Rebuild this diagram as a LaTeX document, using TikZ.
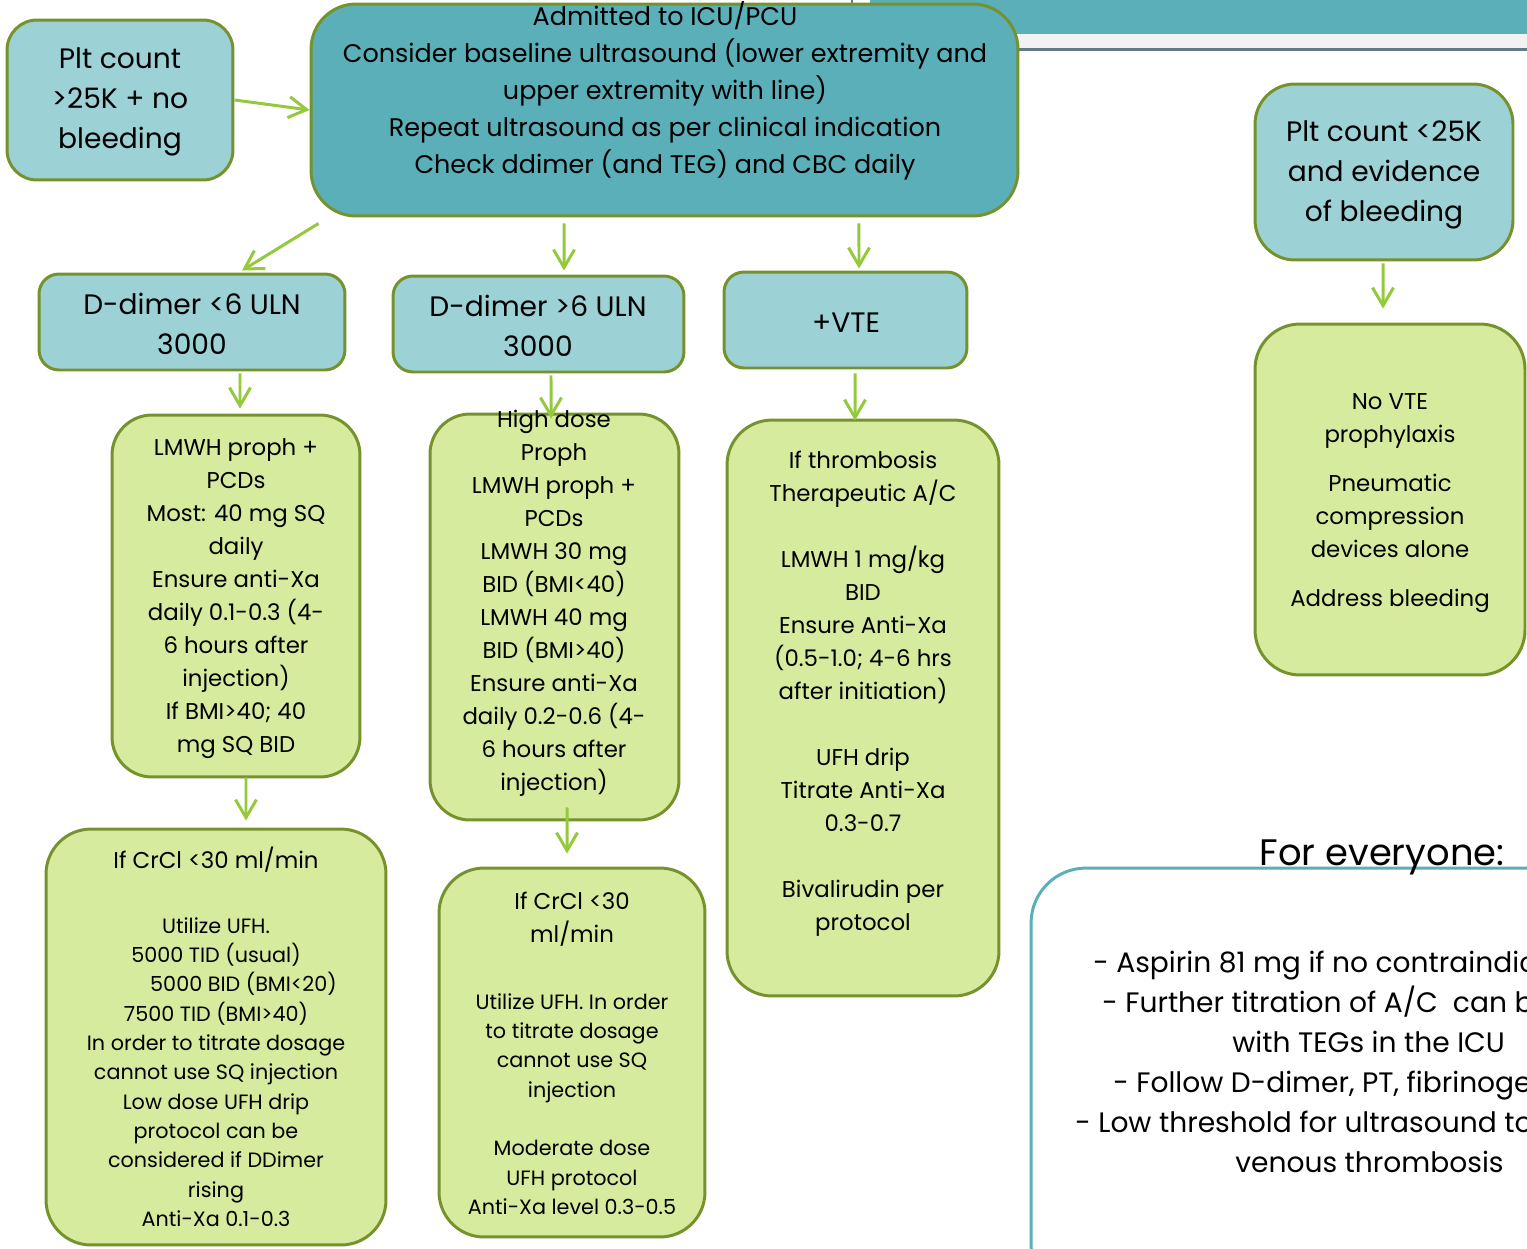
\documentclass[tikz,border=0pt]{standalone}
\usepackage{fontspec}
\setmainfont{Poppins}
\usetikzlibrary{arrows.meta}
\definecolor{lteal}{HTML}{9CD1D6}
\definecolor{dteal}{HTML}{5AAFB9}
\definecolor{lgreen}{HTML}{D7EB9F}
\definecolor{olive}{HTML}{76922C}
\definecolor{lime}{HTML}{94C93D}
\definecolor{slate}{HTML}{627A86}
\begin{document}
\begin{tikzpicture}[x=0.02cm,y=-0.02cm,
  box/.style={draw=olive,line width=1.7pt,inner sep=0pt},
  txt/.style={align=center,inner sep=0pt,text=black},
  bigtxt/.style={txt,font=\fontsize{16}{22.8}\selectfont},
  icutxt/.style={txt,font=\fontsize{14.5}{21}\selectfont},
  midtxt/.style={txt,font=\fontsize{13}{18.8}\selectfont},
  smalltxt/.style={txt,font=\fontsize{11.8}{16.7}\selectfont},
  evtxt/.style={inner sep=0pt,anchor=base west,font=\fontsize{16}{22.8}\selectfont},
  arr/.style={draw=lime,line width=1.7pt,-{Straight Barb[length=3.6mm,width=4.2mm]}}]
\useasboundingbox (0,0) rectangle (1527,1248);
\clip (0,0) rectangle (1527,1248);
\fill[dteal] (870,0) rectangle (1527,34);
\fill[black!5] (1018,34) rectangle (1527,48);
\fill[slate] (1018,48) rectangle (1527,51);
\draw[slate,line width=0.6pt] (852,0) -- (852,4);
\node[box,fill=lteal,minimum width=4.52cm,minimum height=3.2cm,rounded corners=0.6cm] (pltHigh) at (120,100) {};
\node[box,fill=dteal,minimum width=14.14cm,minimum height=4.24cm,rounded corners=0.9cm] (icu) at (664.5,110) {};
\node[box,fill=lteal,minimum width=6.12cm,minimum height=1.92cm,rounded corners=0.4cm] (dLow) at (192,322) {};
\node[box,fill=lteal,minimum width=5.82cm,minimum height=1.92cm,rounded corners=0.4cm] (dHigh) at (538.5,324) {};
\node[box,fill=lteal,minimum width=4.86cm,minimum height=1.92cm,rounded corners=0.4cm] (vte) at (845.5,320) {};
\node[box,fill=lgreen,minimum width=4.96cm,minimum height=7.24cm,rounded corners=0.8cm] (proph) at (236,596) {};
\node[box,fill=lgreen,minimum width=4.98cm,minimum height=8.12cm,rounded corners=0.8cm] (highProph) at (554.5,617) {};
\node[box,fill=lgreen,minimum width=5.44cm,minimum height=11.52cm,rounded corners=0.9cm] (thera) at (863,708) {};
\node[box,fill=lgreen,minimum width=6.8cm,minimum height=8.32cm,rounded corners=0.9cm] (ufhLow) at (216,1037) {};
\node[box,fill=lgreen,minimum width=5.32cm,minimum height=7.38cm,rounded corners=0.9cm] (ufhMod) at (572,1052.5) {};
\node[box,fill=lteal,minimum width=5.16cm,minimum height=3.52cm,rounded corners=0.8cm] (pltLow) at (1384,172) {};
\node[box,fill=lgreen,minimum width=5.4cm,minimum height=7.02cm,rounded corners=0.9cm] (noVte) at (1390,499.5) {};
\node[draw=dteal,line width=1.7pt,fill=white,inner sep=0pt,minimum width=11.36cm,minimum height=8.64cm,rounded corners=1.1cm] (everyone) at (1315,1084) {};
\node[bigtxt] (pltHighTxt) at (120,102) {Plt count\\>25K + no\\bleeding};
\node[icutxt] (icuTxt) at (665,91) {Admitted to ICU/PCU\\Consider baseline ultrasound (lower extremity and\\upper extremity with line)\\Repeat ultrasound as per clinical indication\\Check ddimer (and TEG) and CBC daily};
\node[bigtxt] (dLowTxt) at (192,324) {D-dimer <6 ULN\\3000};
\node[bigtxt] (dHighTxt) at (538,326) {D-dimer >6 ULN\\3000};
\node[bigtxt] (vteTxt) at (846,323) {+VTE};
\node[midtxt] (prophTxt) at (236,598.5) {LMWH proph +\\PCDs\\Most: 40 mg SQ\\daily\\Ensure anti-Xa\\daily 0.1-0.3 (4-\\6 hours after\\injection)\\If BMI>40; 40\\mg SQ BID};
\node[midtxt] (highProphTxt) at (554,603.5) {High dose\\Proph\\LMWH proph +\\PCDs\\LMWH 30 mg\\BID (BMI<40)\\LMWH 40 mg\\BID (BMI>40)\\Ensure anti-Xa\\daily 0.2-0.6 (4-\\6 hours after\\injection)};
\node[midtxt] (theraTxt) at (863,694) {If thrombosis\\Therapeutic A/C\\[18.8pt]LMWH 1 mg/kg\\BID\\Ensure Anti-Xa\\(0.5-1.0; 4-6 hrs\\after initiation)\\[18.8pt]UFH drip\\Titrate Anti-Xa\\0.3-0.7\\[18.8pt]Bivalirudin per\\protocol};
\node[midtxt] (ufhLowHead) at (216,860) {If CrCl <30 ml/min};
\node[smalltxt] (ufhLowTxt) at (216,1072) {Utilize UFH.\\5000 TID (usual)\\\hspace*{1.1cm}5000 BID (BMI<20)\\7500 TID (BMI>40)\\In order to titrate dosage\\cannot use SQ injection\\Low dose UFH drip\\protocol can be\\considered if DDimer\\rising\\Anti-Xa 0.1-0.3};
\node[midtxt] (ufhModHead) at (572,919.5) {If CrCl <30\\ml/min};
\node[smalltxt] (ufhModTxt) at (572,1104) {Utilize UFH. In order\\to titrate dosage\\cannot use SQ\\injection\\[16.7pt]Moderate dose\\UFH protocol\\Anti-Xa level 0.3-0.5};
\node[bigtxt] (pltLowTxt) at (1384,175) {Plt count <25K\\and evidence\\of bleeding};
\node[midtxt] (noVteTxt) at (1390,503) {No VTE\\prophylaxis\\[0.32cm]Pneumatic\\compression\\devices alone\\[0.32cm]Address bleeding};
\node[inner sep=0pt,anchor=base,font=\fontsize{21}{24}\selectfont] (everyoneTitle) at (1382,865) {For everyone:};
\node[evtxt] (ev1) at (1093,972) {- Aspirin 81 mg if no contraindic};
\node[evtxt] (ev2) at (1102,1012) {- Further titration of A/C\ \ can b};
\node[evtxt] (ev3) at (1232,1052) {with TEGs in the ICU};
\node[evtxt] (ev4) at (1113,1092) {- Follow D-dimer, PT, fibrinoge};
\node[evtxt] (ev5) at (1075,1132) {- Low threshold for ultrasound to};
\node[evtxt] (ev6) at (1235,1172) {venous thrombosis};
\path[arr] (pltHigh.east) -- (icu.west);
\path[arr] ([xshift=0.18cm,yshift=-0.12cm]icu.south west) -- ([xshift=1cm,yshift=0.04cm]dLow.north);
\path[arr] ([xshift=-2.01cm,yshift=-0.12cm]icu.south) -- ([xshift=0.51cm,yshift=0.08cm]dHigh.north);
\path[arr] ([xshift=3.89cm,yshift=-0.12cm]icu.south) -- ([xshift=0.27cm,yshift=0.04cm]vte.north);
\path[arr] ([xshift=0.96cm,yshift=-0.04cm]dLow.south) -- ([xshift=0.08cm,yshift=0.1cm]proph.north);
\path[arr] ([xshift=0.25cm,yshift=-0.04cm]dHigh.south) -- ([xshift=-0.07cm,yshift=-0.12cm]highProph.north);
\path[arr] ([xshift=0.19cm,yshift=-0.08cm]vte.south) -- ([xshift=-0.16cm,yshift=-0.04cm]thera.north);
\path[arr] ([xshift=0.2cm,yshift=0.02cm]proph.south) -- ([xshift=0.6cm,yshift=0.14cm]ufhLow.north);
\path[arr] ([xshift=0.25cm,yshift=0.28cm]highProph.south) -- ([xshift=-0.1cm,yshift=0.26cm]ufhMod.north);
\path[arr] ([xshift=-0.02cm,yshift=-0.04cm]pltLow.south) -- ([xshift=-0.14cm,yshift=0.28cm]noVte.north);
\end{tikzpicture}
\end{document}
